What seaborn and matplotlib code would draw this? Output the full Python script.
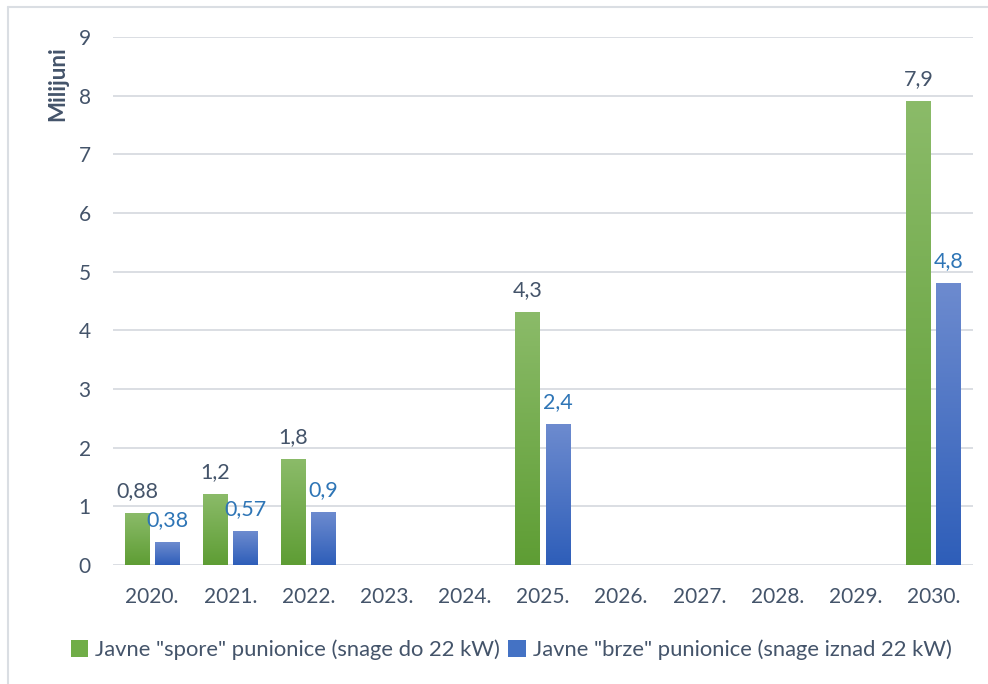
import numpy as np
import pandas as pd
import matplotlib
matplotlib.use('Agg')
import matplotlib.pyplot as plt
import seaborn as sns
from matplotlib.colors import LinearSegmentedColormap
from matplotlib.patches import Patch
from matplotlib.lines import Line2D

# podaci
years = ['2020.', '2021.', '2022.', '2023.', '2024.', '2025.',
         '2026.', '2027.', '2028.', '2029.', '2030.']
bar_years = ['2020.', '2021.', '2022.', '2025.', '2030.']
spore = [0.88, 1.2, 1.8, 4.3, 7.9]
brze = [0.38, 0.57, 0.9, 2.4, 4.8]
series = ['Javne "spore" punionice (snage do 22 kW)',
          'Javne "brze" punionice (snage iznad 22 kW)']
y_ticks = [0, 1, 2, 3, 4, 5, 6, 7, 8, 9]

df = pd.DataFrame({
    'godina': bar_years * 2,
    'vrijednost': spore + brze,
    'serija': [series[0]] * len(bar_years) + [series[1]] * len(bar_years),
})

text_col = '#44546A'
blue_lbl = '#2E75B6'
grid_col = '#DADEE3'
green = '#70AD47'
blue = '#4472C4'
grads = [LinearSegmentedColormap.from_list('g', ['#5E9D34', '#8BBB69']),
         LinearSegmentedColormap.from_list('b', ['#2E5EB9', '#6D8BCF'])]

sns.set_theme(style='white')
plt.rcParams['font.family'] = ['Lato', 'DejaVu Sans']

fig = plt.figure(figsize=(9.88, 6.84), dpi=100)
ax = fig.add_axes([113 / 988, 1 - 565 / 684, 860 / 988, 528 / 684])

sns.barplot(data=df, x='godina', y='vrijednost', hue='serija', order=years,
            hue_order=series, palette=[green, blue], width=0.77, gap=0.17,
            ax=ax, legend=False)

# gradient fill for every bar
grad = np.linspace(0, 1, 256).reshape(-1, 1)
for cont, cm in zip(ax.containers, grads):
    for b in cont:
        x0, w, h = b.get_x(), b.get_width(), b.get_height()
        if np.isnan(h):
            continue
        ax.imshow(grad, extent=[x0, x0 + w, 0, h], origin='lower', cmap=cm,
                  aspect='auto', zorder=2)
        b.set_facecolor('none')
        b.set_edgecolor('none')

for cont, col in zip(ax.containers, [text_col, blue_lbl]):
    labels = [f'{b.get_height():g}'.replace('.', ',') for b in cont]
    ax.bar_label(cont, labels=labels, padding=9, color=col, fontsize=15.5)

ax.set_xlim(-0.5, 10.5)
ax.set_ylim(0, 9)
ax.set_yticks(y_ticks)
ax.yaxis.grid(True, color=grid_col, linewidth=1.4)
ax.set_axisbelow(True)
for s in ax.spines.values():
    s.set_visible(False)
ax.tick_params(axis='y', length=0, pad=16, labelcolor=text_col, labelsize=15)
ax.tick_params(axis='x', length=0, pad=16, labelcolor=text_col, labelsize=15)
ax.set_xlabel('')
ax.set_ylabel('')

fig.text(58 / 988, 1 - 84 / 684, 'Milijuni', rotation=90, ha='center',
         va='center', fontsize=16, fontweight='bold', color=text_col)

handles = [Patch(facecolor=green, edgecolor='none'),
           Patch(facecolor=blue, edgecolor='none')]
fig.legend(handles, series, loc='center', bbox_to_anchor=(511 / 988, 1 - 650 / 684),
           ncol=2, frameon=False, fontsize=15.8, labelcolor=text_col,
           handlelength=0.8, handleheight=0.8, handletextpad=0.3,
           columnspacing=0.4)

# outer chart border (only left and top visible)
fig.add_artist(Line2D([8 / 988, 8 / 988], [0, 1 - 7 / 684], color=grid_col, lw=1.5))
fig.add_artist(Line2D([8 / 988, 1], [1 - 7 / 684, 1 - 7 / 684], color=grid_col, lw=1.5))

fig.savefig('out.png', dpi=100, facecolor='white')
